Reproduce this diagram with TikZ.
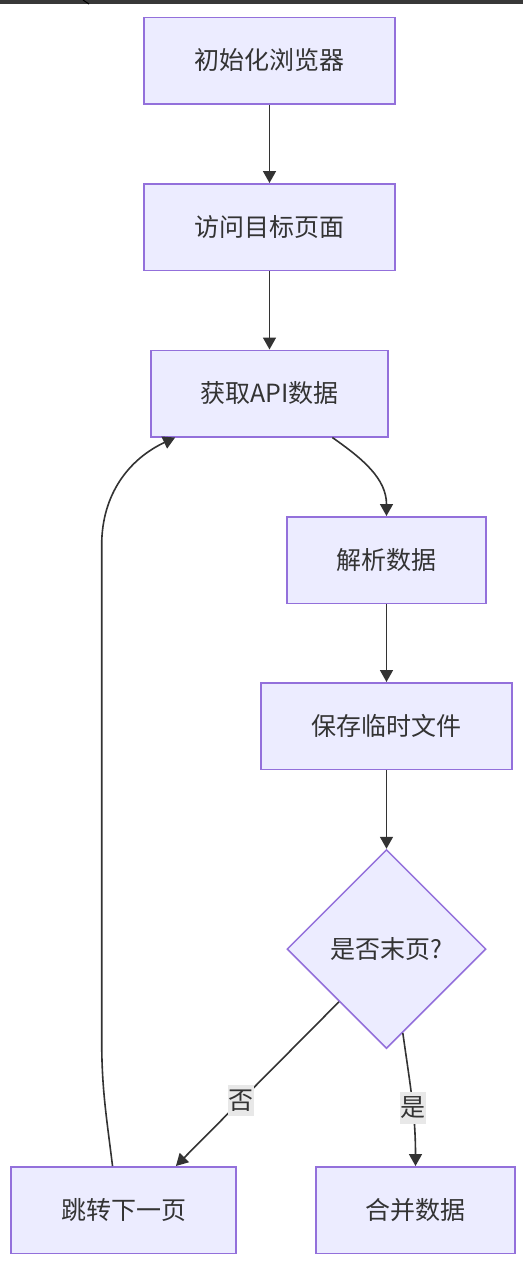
\documentclass[tikz,border=0pt]{standalone}
\usepackage{fontspec}
\setmainfont{Noto Sans CJK SC}
\usepackage{xcolor}
\usetikzlibrary{arrows.meta,shapes.geometric}
\definecolor{boxfill}{HTML}{ECECFF}
\definecolor{boxline}{HTML}{9370DB}
\definecolor{inkgrey}{HTML}{333333}
\definecolor{labelbg}{HTML}{E8E8E8}
\definecolor{topbar}{HTML}{383838}

\begin{document}
\begin{tikzpicture}[
  x=1pt, y=1pt,
  nd/.style={rectangle, draw=boxline, line width=1.5pt, fill=boxfill, minimum height=86.5pt, inner sep=0pt, text=inkgrey, font=\fontsize{25}{30}\selectfont},
  dec/.style={diamond, draw=boxline, line width=1.5pt, fill=boxfill, minimum size=199pt, aspect=1, inner sep=0pt, text=inkgrey, font=\fontsize{25}{30}\selectfont},
  arr/.style={-{Triangle[length=12pt,width=13pt]}, inkgrey, line width=1.6pt},
  lbl/.style={fill=labelbg, text=inkgrey, inner xsep=0.5pt, inner ysep=5pt, font=\fontsize{25}{30}\selectfont}
]
\useasboundingbox (0,0) rectangle (523,-1264);
% Top strip
\fill[topbar] (0,0) rectangle (523,-4);
\draw[black, line width=1pt] (83,0) -- (89,-4);

% Main column
\node[nd, minimum width=251pt] (init) at (269.5,-60.5) {初始化浏览器};
\node[nd, minimum width=251pt] (visit) at (269.5,-227) {访问目标页面};
\node[nd, minimum width=237pt] (fetch) at (269.5,-393.5) {获取API数据};
\draw[arr] (init.south) -- (visit.north);
\draw[arr] (visit.south) -- (fetch.north);

% Right column
\node[nd, minimum width=199pt] (parse) at (386.5,-560) {解析数据};
\node[nd, minimum width=251pt] (save) at (386.5,-726) {保存临时文件};
\node[dec] (last) at (386.5,-949) {是否末页?};
\draw[arr] (fetch.325) to[out=-35,in=90] (parse.north);
\draw[arr] (parse.south) -- (save.north);
\draw[arr] (save.south) -- (last.north);

% Bottom row
\node[nd, minimum width=225pt] (next) at (123.5,-1210) {跳转下一页};
\node[nd, minimum width=199pt] (merge) at (415.5,-1210) {合并数据};
\draw[arr] (last.228) -- node[lbl, pos=0.6] {否} (next.40);
\draw[arr] (last.281) to[out=-82,in=90] node[lbl, pos=0.57] {是} (merge.north);

% Loop back
\coordinate (loopA) at (101.7,-1040);
\coordinate (loopB) at (101.7,-545);
\draw[arr] (next.104) to[out=97,in=-90] (loopA) -- (loopB) to[out=90,in=205] (fetch.205);
\end{tikzpicture}
\end{document}
